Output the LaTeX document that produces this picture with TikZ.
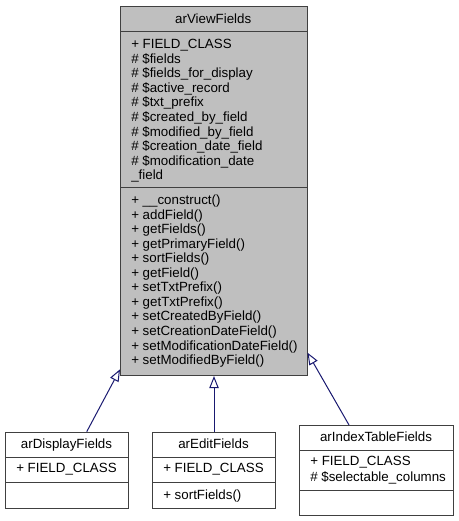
\documentclass[tikz,border=0pt]{standalone}
\usepackage{fontspec}
\setmainfont{Liberation Sans}
\usetikzlibrary{arrows.meta}
\definecolor{boxline}{HTML}{404040}
\definecolor{mainfill}{HTML}{BFBFBF}
\definecolor{edgecol}{HTML}{191970}
\begin{document}
\begin{tikzpicture}[x=0.75pt,y=-0.75pt,
  classbox/.style={draw=boxline,line width=0.75pt,rectangle,inner sep=0pt,anchor=north west},
  sepline/.style={draw=boxline,line width=0.75pt},
  txt/.style={anchor=base west,inner sep=0pt,font=\fontsize{10pt}{12pt}\selectfont},
  ttl/.style={anchor=base,inner sep=0pt,font=\fontsize{10pt}{12pt}\selectfont},
  inherit/.style={draw=edgecol,line width=0.75pt,-{Triangle[open,length=9pt,width=7pt,fill=white]}}]
\useasboundingbox (0,0) rectangle (459,521);
% main class
\node[classbox,fill=mainfill,minimum width=139.875pt,minimum height=276.75pt] (main) at (120,6) {};
\draw[sepline] (120,31.5) -- (306.5,31.5);
\draw[sepline] (120,187.5) -- (306.5,187.5);
\node[ttl] (mt) at (213.25,23) {arViewFields};
\node[txt] (a1) at (131,48.5) {+ FIELD\_CLASS};
\node[txt] (a2) at (131,63.1) {\# \$fields};
\node[txt] (a3) at (131,77.7) {\# \$fields\_for\_display};
\node[txt] (a4) at (131,92.3) {\# \$active\_record};
\node[txt] (a5) at (131,106.9) {\# \$txt\_prefix};
\node[txt] (a6) at (131,121.5) {\# \$created\_by\_field};
\node[txt] (a7) at (131,136.1) {\# \$modified\_by\_field};
\node[txt] (a8) at (131,150.7) {\# \$creation\_date\_field};
\node[txt] (a9) at (131,165.3) {\# \$modification\_date};
\node[txt] (a10) at (131,179.9) {\_field};
\node[txt] (m1) at (131,204.5) {+ \_\_construct()};
\node[txt] (m2) at (131,219.05) {+ addField()};
\node[txt] (m3) at (131,233.6) {+ getFields()};
\node[txt] (m4) at (131,248.15) {+ getPrimaryField()};
\node[txt] (m5) at (131,262.7) {+ sortFields()};
\node[txt] (m6) at (131,277.25) {+ getField()};
\node[txt] (m7) at (131,291.8) {+ setTxtPrefix()};
\node[txt] (m8) at (131,306.35) {+ getTxtPrefix()};
\node[txt] (m9) at (131,320.9) {+ setCreatedByField()};
\node[txt] (m10) at (131,335.45) {+ setCreationDateField()};
\node[txt] (m11) at (131,350) {+ setModificationDateField()};
\node[txt] (m12) at (131,364.55) {+ setModifiedByField()};
% arDisplayFields
\node[classbox,fill=white,minimum width=92.25pt,minimum height=57pt] (disp) at (5,431.7) {};
\draw[sepline] (5,457.3) -- (128,457.3);
\draw[sepline] (5,482.7) -- (128,482.7);
\node[ttl] (dt) at (66.5,448) {arDisplayFields};
\node[txt] (d1) at (16,472.8) {+ FIELD\_CLASS};
% arEditFields
\node[classbox,fill=white,minimum width=92.25pt,minimum height=57pt] (edit) at (152,431.7) {};
\draw[sepline] (152,457.3) -- (275,457.3);
\draw[sepline] (152,482.7) -- (275,482.7);
\node[ttl] (et) at (213.5,448) {arEditFields};
\node[txt] (e1) at (163,472.8) {+ FIELD\_CLASS};
\node[txt] (e2) at (163,499.5) {+ sortFields()};
% arIndexTableFields
\node[classbox,fill=white,minimum width=115.5pt,minimum height=67.5pt] (idx) at (299,425) {};
\draw[sepline] (299,450) -- (453,450);
\draw[sepline] (299,490) -- (453,490);
\node[ttl] (it) at (376,441.2) {arIndexTableFields};
\node[txt] (i1) at (310,465.2) {+ FIELD\_CLASS};
\node[txt] (i2) at (310,481.2) {\# \$selectable\_columns};
% inheritance
\draw[inherit] ([xshift=61.3pt]disp.north west) -- ([yshift=5pt]main.south west);
\draw[inherit] (edit.north) -- (edit.north |- main.south);
\draw[inherit] ([xshift=37.5pt]idx.north west) -- ([yshift=17.5pt]main.south east);
\end{tikzpicture}
\end{document}
